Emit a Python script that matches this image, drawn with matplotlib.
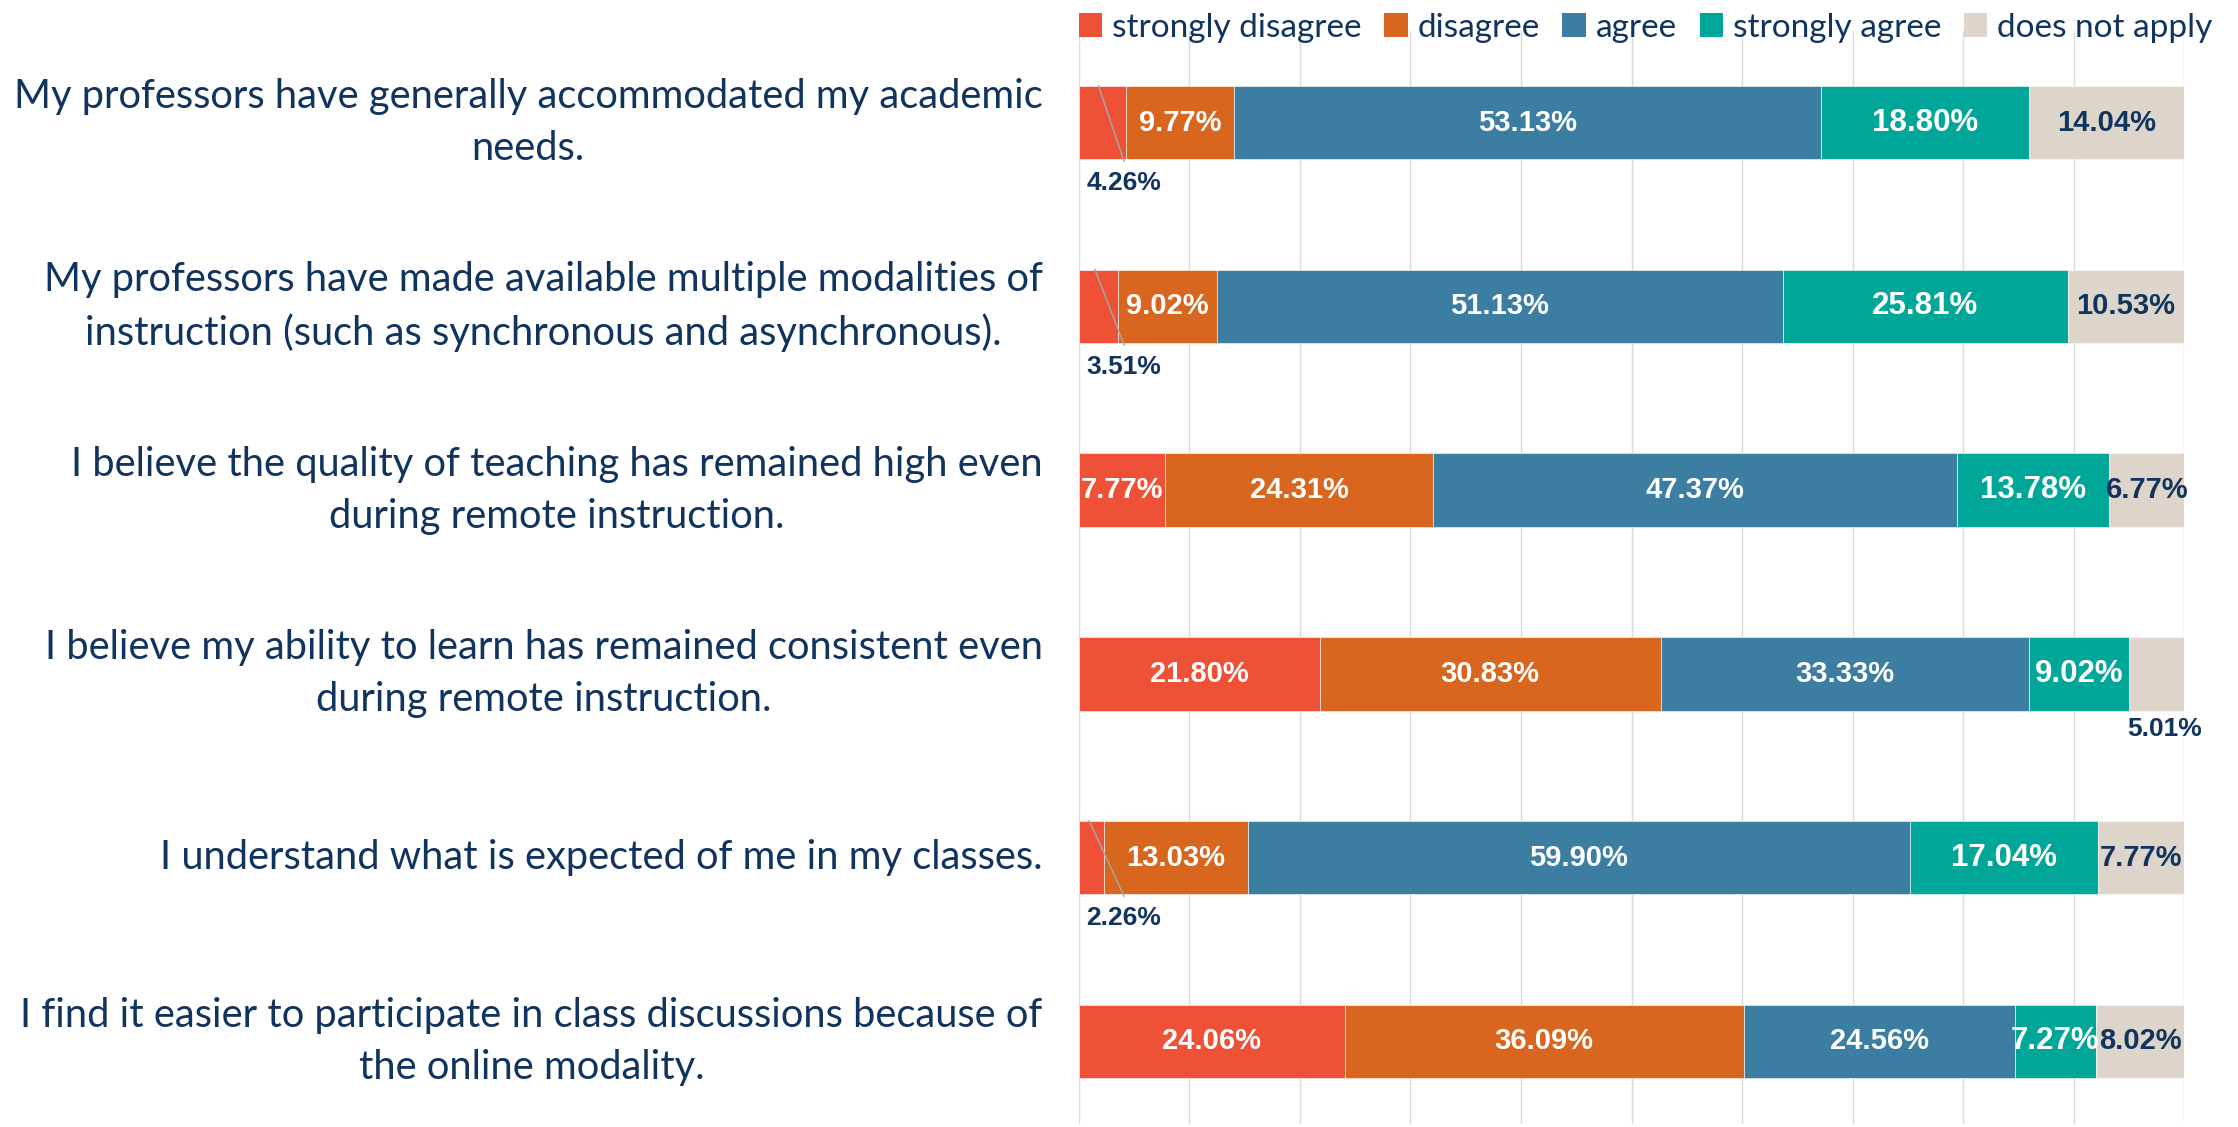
import matplotlib
matplotlib.use("Agg")
import matplotlib.pyplot as plt
from matplotlib.patches import Patch
import numpy as np

# survey statements (top to bottom)
statements = [
    "My professors have generally accommodated my academic\nneeds.",
    "My professors have made available multiple modalities of\ninstruction (such as synchronous and asynchronous).",
    "I believe the quality of teaching has remained high even\nduring remote instruction.",
    "I believe my ability to learn has remained consistent even\nduring remote instruction.",
    "I understand what is expected of me in my classes.",
    "I find it easier to participate in class discussions because of\nthe online modality.",
]
responses = ["strongly disagree", "disagree", "agree", "strongly agree", "does not apply"]

strongly_disagree = [4.26, 3.51, 7.77, 21.80, 2.26, 24.06]
disagree = [9.77, 9.02, 24.31, 30.83, 13.03, 36.09]
agree = [53.13, 51.13, 47.37, 33.33, 59.90, 24.56]
strongly_agree = [18.80, 25.81, 13.78, 9.02, 17.04, 7.27]
does_not_apply = [14.04, 10.53, 6.77, 5.01, 7.77, 8.02]

series = [strongly_disagree, disagree, agree, strongly_agree, does_not_apply]
colors = ["#EE5136", "#D8661F", "#3C7EA1", "#00A798", "#DDD5C9"]
navy = "#11345F"

fig = plt.figure(figsize=(22.38, 11.27), dpi=100)
ax = fig.add_axes([0.482, 0.0027, 0.494, 0.970])

y = np.arange(len(statements))
left = np.zeros(len(statements))
bar_h = 0.4
for vals, col, name in zip(series, colors, responses):
    vals = np.array(vals)
    ax.barh(y, vals, left=left, height=bar_h, color=col, edgecolor="white",
            linewidth=0.4, zorder=2, label=name)
    for i, v in enumerate(vals):
        cx = left[i] + v / 2
        txt_col = navy if name == "does not apply" else "white"
        size = 22.5 if name == "strongly agree" else 21
        if name == "strongly disagree" and v < 5:
            # small slice: label below the bar with a leader line
            lx = 4.1
            ax.plot([left[i] + v * 0.42, lx], [y[i] - bar_h / 2, y[i] + bar_h / 2 + 0.01],
                    color="#A6A6A6", lw=1.1, zorder=3)
            ax.text(lx, y[i] + 0.33, f"{v:.2f}%", ha="center", va="center",
                    fontsize=19, fontweight="bold", color=navy,
                    family="Liberation Sans", zorder=4)
        elif name == "does not apply" and v < 6:
            ax.text(cx + 0.7, y[i] + 0.3, f"{v:.2f}%", ha="center", va="center",
                    fontsize=19, fontweight="bold", color=navy,
                    family="Liberation Sans", zorder=4)
        else:
            ax.text(cx, y[i], f"{v:.2f}%", ha="center", va="center",
                    fontsize=size, fontweight="bold", color=txt_col,
                    family="Liberation Sans", zorder=4)
    left = left + vals

ax.set_xlim(0, 100)
ax.set_ylim(5.45, -0.5)
ax.set_xticks(np.arange(0, 101, 10))
ax.set_xticklabels([])
ax.tick_params(axis="x", length=0)
ax.tick_params(axis="y", length=0, pad=26)
ax.grid(axis="x", color="#D9D9D9", linewidth=1.0, zorder=0)
ax.set_axisbelow(True)
for s in ax.spines.values():
    s.set_visible(False)

ax.set_yticks(y)
ax.set_yticklabels(statements, fontsize=28.7, color=navy, family="Lato",
                   ha="right", va="center", multialignment="center",
                   linespacing=1.5)

handles = [Patch(facecolor=c, edgecolor="none") for c in colors]
ax.legend(handles, responses, ncol=5, loc="lower left",
          bbox_to_anchor=(0.0, 0.989), frameon=False,
          prop={"family": "Lato", "size": 24}, labelcolor=navy,
          handlelength=0.7, handleheight=0.7, handletextpad=0.3,
          columnspacing=0.68, borderaxespad=0, borderpad=0)

fig.savefig("out.png", dpi=100)
